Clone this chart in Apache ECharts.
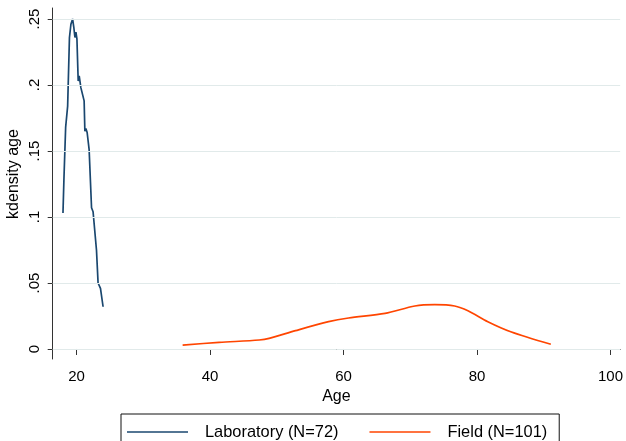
<!DOCTYPE html>
<html>
<head>
<meta charset="utf-8">
<script src="https://cdn.jsdelivr.net/npm/echarts@6/dist/echarts.min.js"></script>
<style>
html,body{margin:0;padding:0;background:#fff;}
#chart{width:626px;height:441px;}
</style>
</head>
<body>
<div id="chart"></div>
<script>
const labAge = [17.96, 18.1, 18.36, 18.66, 18.93, 19.15, 19.40, 19.6, 19.75, 19.9, 20.05, 20.24, 20.39, 20.64, 20.9, 21.13, 21.24, 21.39, 21.58, 21.88, 22.24, 22.47, 22.98, 23.22, 23.58, 23.97];
const labDensity = [0.103, 0.128, 0.168, 0.184, 0.236, 0.246, 0.250, 0.243, 0.236, 0.240, 0.235, 0.203, 0.207, 0.198, 0.199, 0.188, 0.165, 0.167, 0.164, 0.151, 0.107, 0.104, 0.075, 0.050, 0.046, 0.032];
const fieldAge = [35.89, 41.36, 47.36, 48.85, 52.80, 57.76, 60.75, 66.22, 70.69, 73.67, 76.65, 78.64, 81.62, 85.05, 91.06];
const fieldDensity = [0.003, 0.005, 0.0068, 0.008, 0.0139, 0.0207, 0.0235, 0.027, 0.0326, 0.0336, 0.0326, 0.029, 0.0207, 0.0131, 0.0036];
const xTicks = [20, 40, 60, 80, 100];
const yTicks = [0, 0.05, 0.1, 0.15, 0.2, 0.25];
const yTickLabels = ['0', '.05', '.1', '.15', '.2', '.25'];
const seriesNames = ['Laboratory (N=72)', 'Field (N=101)'];
const xTitle = 'Age';
const yTitle = 'kdensity age';

const FONT = "'Liberation Sans', Arial, Helvetica, sans-serif";
const zip = (a, b) => a.map((v, i) => [v, b[i]]);

const chart = echarts.init(document.getElementById('chart'), null, {renderer: 'canvas'});
chart.setOption({
  animation: false,
  backgroundColor: '#ffffff',
  textStyle: {fontFamily: FONT},
  grid: {left: 52.7, top: 8, right: 3, bottom: 82, containLabel: false},
  xAxis: {
    type: 'value', min: 16.42, max: 101.45,
    name: xTitle, nameLocation: 'middle', nameGap: 26,
    nameTextStyle: {fontSize: 16, color: '#000', fontFamily: FONT},
    axisLine: {show: true, lineStyle: {color: '#333', width: 1}},
    axisTick: {show: true, customValues: xTicks, length: 6, lineStyle: {color: '#333'}},
    axisLabel: {customValues: xTicks, fontSize: 15, color: '#000', margin: 10, fontFamily: FONT},
    splitLine: {show: false}
  },
  yAxis: {
    type: 'value', min: -0.00758, max: 0.25833,
    axisLine: {show: true, lineStyle: {color: '#333', width: 1}},
    axisTick: {show: true, customValues: yTicks, length: 5, lineStyle: {color: '#333'}},
    axisLabel: {
      customValues: yTicks, rotate: 90, fontSize: 15, color: '#000', margin: 10, fontFamily: FONT,
      formatter: v => { const i = yTicks.findIndex(t => Math.abs(t - v) < 1e-9); return i >= 0 ? yTickLabels[i] : ''; }
    },
    splitLine: {show: false}
  },
  legend: {
    data: seriesNames,
    left: 121, top: 414, orient: 'horizontal',
    padding: [10, 12, 14, 6],
    borderColor: '#111', borderWidth: 1,
    icon: 'rect',
    itemWidth: 61, itemHeight: 1.6, itemGap: 31,
    textStyle: {fontSize: 16.4, color: '#000', fontFamily: FONT, padding: [0, 0, 0, 12]}
  },
  graphic: [{
    type: 'text', x: 14, y: 174, rotation: Math.PI / 2,
    style: {text: yTitle, fontSize: 16, fill: '#000', font: '16px ' + FONT, textAlign: 'center', textVerticalAlign: 'middle'}
  }],
  series: [
    {
      name: 'gridlines', type: 'line', data: [], z: 1, silent: true,
      markLine: {
        silent: true, symbol: ['none', 'none'], label: {show: false},
        lineStyle: {color: '#e1eaea', width: 1, type: 'solid'},
        emphasis: {disabled: true},
        data: yTicks.map(v => ({yAxis: v}))
      }
    },
    {
      name: seriesNames[0], type: 'line', data: zip(labAge, labDensity), z: 3,
      showSymbol: false, symbol: 'none', smooth: false,
      lineStyle: {color: '#1a476f', width: 1.7}, itemStyle: {color: '#1a476f'}
    },
    {
      name: seriesNames[1], type: 'line', data: zip(fieldAge, fieldDensity), z: 3,
      showSymbol: false, symbol: 'none', smooth: 0.3,
      lineStyle: {color: '#ff4500', width: 1.7}, itemStyle: {color: '#ff4500'}
    }
  ]
});
</script>
</body>
</html>
